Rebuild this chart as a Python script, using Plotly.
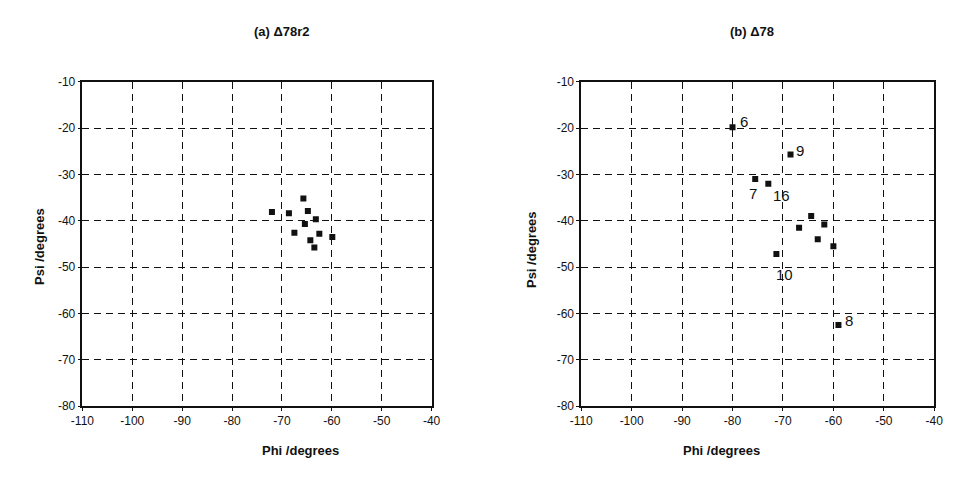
import plotly.graph_objects as go

# ---- data ----
a_phi = [-65.7, -72.0, -68.6, -64.8, -65.4, -63.2, -67.5, -62.5, -59.9, -64.3, -63.5]
a_psi = [-35.2, -38.1, -38.4, -37.9, -40.7, -39.7, -42.6, -42.8, -43.5, -44.2, -45.8]

b_phi = [-80.0, -68.5, -75.5, -72.9, -71.3, -59.0, -64.4, -66.8, -61.8, -63.1, -60.0]
b_psi = [-19.8, -25.7, -31.0, -32.0, -47.2, -62.5, -39.0, -41.5, -40.8, -44.0, -45.5]
b_labels = ["6", "9", "7", "16", "10", "8", "", "", "", "", ""]

x_ticks = [-110, -100, -90, -80, -70, -60, -50, -40]
y_ticks = [-10, -20, -30, -40, -50, -60, -70, -80]
x_ticktext = ["-110", "-100", "-90", "-80", "-70", "-60", "-50", "-40"]
y_ticktext = ["-10", "-20", "-30", "-40", "-50", "-60", "-70", "-80"]

titles = ["(a) \u039478r2", "(b) \u039478"]
x_title = "Phi /degrees"
y_title = "Psi /degrees"

# ---- style ----
W, H = 955, 480
label_shift = {"6": (11, 6), "9": (9, 4), "7": (-2, -14), "16": (13, -12), "10": (8, -20), "8": (11, 4)}
font = "Liberation Sans, Arial, sans-serif"

fig = go.Figure()
marker = dict(symbol="square", size=6, color="#111111")
fig.add_trace(go.Scatter(x=a_phi, y=a_psi, mode="markers", marker=marker, xaxis="x", yaxis="y", showlegend=False))
fig.add_trace(go.Scatter(x=b_phi, y=b_psi, mode="markers", marker=marker, xaxis="x2", yaxis="y2", showlegend=False))

for lab, px, py in zip(b_labels, b_phi, b_psi):
    if not lab:
        continue
    dx, dy = label_shift[lab]
    fig.add_annotation(x=px, y=py, xref="x2", yref="y2", text=lab, showarrow=False,
                       xshift=dx, yshift=dy, font=dict(size=15, color="#111111", family=font))

ax_common = dict(showline=True, linecolor="#111111", linewidth=1.5, mirror=True,
                 showgrid=True, gridcolor="#111111", gridwidth=1.3, griddash="7px,5px",
                 ticks="outside", ticklen=3, tickcolor="#111111", zeroline=False,
                 tickfont=dict(size=12, color="#111111", family=font))

xd1 = [72 / W, 429 / W]
xd2 = [582 / W, 943 / W]
yd = [(H - 411) / H, (H - 77) / H]

fig.update_layout(
    width=W, height=H, margin=dict(l=0, r=0, t=0, b=0),
    paper_bgcolor="white", plot_bgcolor="white",
    xaxis=dict(domain=xd1, range=[-110, -40], tickvals=x_ticks, ticktext=x_ticktext, anchor="y", **ax_common),
    yaxis=dict(domain=yd, range=[-80, -10], tickvals=y_ticks, ticktext=y_ticktext, anchor="x", **ax_common),
    xaxis2=dict(domain=xd2, range=[-110, -40], tickvals=x_ticks, ticktext=x_ticktext, anchor="y2", **ax_common),
    yaxis2=dict(domain=yd, range=[-80, -10], tickvals=y_ticks, ticktext=y_ticktext, anchor="x2", **ax_common),
)

tfont = dict(size=13, color="#111111", family=font)
# titles
fig.add_annotation(x=245 / W, y=1 - 15 / H, xref="paper", yref="paper", text="<b>" + titles[0] + "</b>", showarrow=False, font=tfont)
fig.add_annotation(x=781 / W, y=1 - 15 / H, xref="paper", yref="paper", text="<b>" + titles[1] + "</b>", showarrow=False, font=tfont)
# x titles
fig.add_annotation(x=254 / W, y=1 - 467 / H, xref="paper", yref="paper", text="<b>" + x_title + "</b>", showarrow=False, font=tfont)
fig.add_annotation(x=767 / W, y=1 - 467 / H, xref="paper", yref="paper", text="<b>" + x_title + "</b>", showarrow=False, font=tfont)
# y titles
fig.add_annotation(x=19 / W, y=1 - 247 / H, xref="paper", yref="paper", text="<b>" + y_title + "</b>", showarrow=False, textangle=-90, font=tfont)
fig.add_annotation(x=531 / W, y=1 - 250 / H, xref="paper", yref="paper", text="<b>" + y_title + "</b>", showarrow=False, textangle=-90, font=tfont)

fig.write_html("out.html")
